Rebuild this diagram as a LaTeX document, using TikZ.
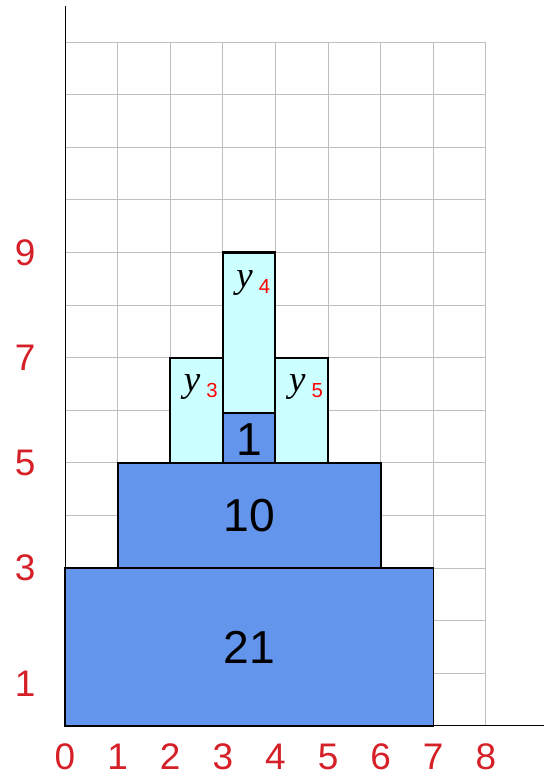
\documentclass[tikz,border=0pt]{standalone}
\usepackage{fontspec}
\setmainfont{Liberation Sans}
\newfontfamily\timesit{Liberation Serif}
\definecolor{axisred}{RGB}{214,32,40}
\definecolor{stackblue}{RGB}{100,149,237}
\definecolor{stackcyan}{RGB}{204,255,255}

\newcommand{\ylab}[1]{{\timesit\itshape y}\,\raisebox{-0.3ex}{\color{red}\fontsize{11}{13}\selectfont #1}}

\begin{document}
\begin{tikzpicture}[x=1cm, y=1cm,
    tick/.style={text=axisred, font=\fontsize{20}{24}\selectfont},
    block/.style={draw=black, line width=1.1pt, fill=stackblue},
    topbox/.style={draw=black, line width=1.1pt, fill=stackcyan},
    count/.style={font=\fontsize{25}{30}\selectfont},
    yname/.style={font=\fontsize{20}{24}\selectfont}]
    \useasboundingbox (-1.236,-0.951) rectangle (9.106,13.80);

    % grid and axes
    \draw[gray!50, line width=0.55pt] (0,0) grid (8,13);
    \coordinate (O) at (0,0);
    \coordinate (ytop) at (0,13.68);
    \coordinate (xend) at (9.106,0);
    \draw[line width=0.55pt] (O) -- (ytop);
    \draw[line width=0.55pt] (O) -- (xend);

    \foreach \i in {0,...,8}
        \node[tick] (x\i) at (\i,-0.59) {\i};
    \foreach \j in {3,5,7,9}
        \node[tick] (y\j) at (-0.76,\j) {\j};
    \node[tick] (y1) at (-0.76,0.8) {1};

    % blocks
    \draw[block, line width=0.8pt] (0,0) rectangle (7,3);
    \draw[block] (1,3) rectangle (6,5);
    \draw[topbox] (2,5) rectangle (3,7);
    \draw[topbox] (3,5) rectangle (4,9);
    \draw[topbox] (4,5) rectangle (5,7);
    \draw[block, line width=0.6pt] (3,5) rectangle (4,5.95);
    \draw[line width=1.1pt] (3,5) rectangle (4,9);

    \node[count] (n21) at (3.5,1.5) {21};
    \node[count] (n10) at (3.5,4) {10};
    \node[count] (n1) at (3.5,5.45) {1};

    \node[yname] (y3name) at (2.58,6.45) {\ylab{3}};
    \node[yname] (y4name) at (3.58,8.42) {\ylab{4}};
    \node[yname] (y5name) at (4.58,6.45) {\ylab{5}};
\end{tikzpicture}
\end{document}
